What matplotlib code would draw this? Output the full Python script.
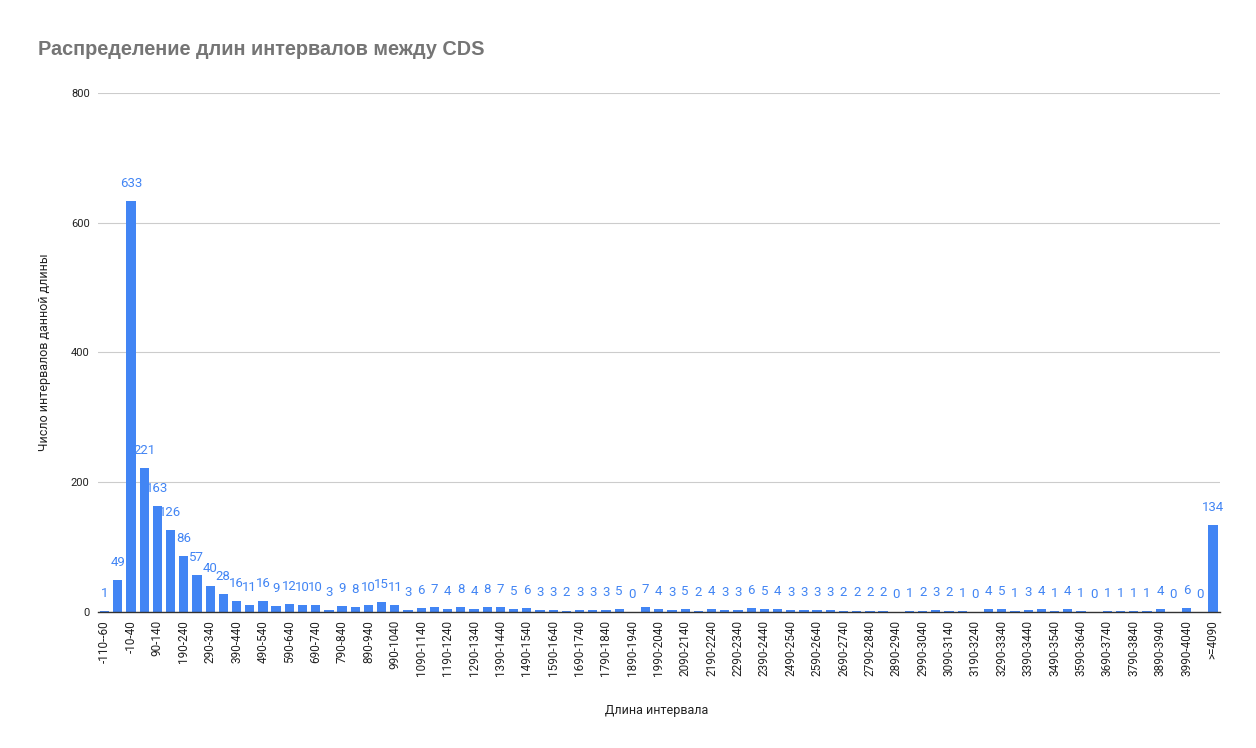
import numpy as np
import matplotlib
matplotlib.use("Agg")
import matplotlib.pyplot as plt

# -----------------------------
# DATA
# -----------------------------
bin_starts = list(range(-110, 4090, 50))
categories = [f"{s}-{s + 50}" for s in bin_starts] + [">=4090"]

counts = [1, 49, 633, 221, 163, 126, 86, 57, 40, 28,
          16, 11, 16, 9, 12, 10, 10, 3, 9, 8,
          10, 15, 11, 3, 6, 7, 4, 8, 4, 8,
          7, 5, 6, 3, 3, 2, 3, 3, 3, 5,
          0, 7, 4, 3, 5, 2, 4, 3, 3, 6,
          5, 4, 3, 3, 3, 3, 2, 2, 2, 2,
          0, 1, 2, 3, 2, 1, 0, 4, 5, 1,
          3, 4, 1, 4, 1, 0, 1, 1, 1, 1,
          4, 0, 6, 0, 134]

y_ticks = [0, 200, 400, 600, 800]

title = "Распределение длин интервалов между CDS"
x_title = "Длина интервала"
y_title = "Число интервалов данной длины"

# -----------------------------
# PLOT
# -----------------------------
BLUE = "#4285F4"

plt.rcParams["font.family"] = ["Roboto", "DejaVu Sans"]

fig = plt.figure(figsize=(12.56, 7.48), dpi=100)
ax = fig.add_axes([0.078, 0.182, 0.893, 0.694])

x = np.arange(len(categories))
ax.bar(x, counts, width=0.7, color=BLUE, zorder=3)

for xi, v in zip(x, counts):
    ax.annotate(str(v), (xi, v), xytext=(0, 8), textcoords="offset points",
                ha="center", va="bottom", fontsize=9.5, color=BLUE, zorder=4)

ax.set_xlim(-0.5, len(categories) - 0.5)
ax.set_ylim(0, 800)
ax.set_yticks(y_ticks)
ax.set_yticklabels([str(t) for t in y_ticks], fontsize=8, color="#222222")

ax.set_xticks(x[::2])
ax.set_xticklabels(categories[::2], rotation=90, fontsize=8.5, color="#222222")
ax.tick_params(axis="both", length=0, pad=6)

ax.grid(axis="y", color="#cccccc", linewidth=0.8, zorder=0)
for s in ["top", "right", "left"]:
    ax.spines[s].set_visible(False)
ax.spines["bottom"].set_color("#333333")
ax.spines["bottom"].set_linewidth(1.0)
ax.spines["bottom"].set_zorder(5)

ax.set_xlabel(x_title, fontsize=9, color="#222222")
ax.set_ylabel(y_title, fontsize=9, color="#222222")
ax.xaxis.set_label_coords(0.498, -0.177)
ax.yaxis.set_label_coords(-0.042, 0.50)

fig.text(0.030, 0.934, title, fontsize=14.3, fontweight="bold", color="#757575",
         family=["Liberation Sans", "DejaVu Sans"], va="center", ha="left")

fig.savefig("out.png", dpi=100)
